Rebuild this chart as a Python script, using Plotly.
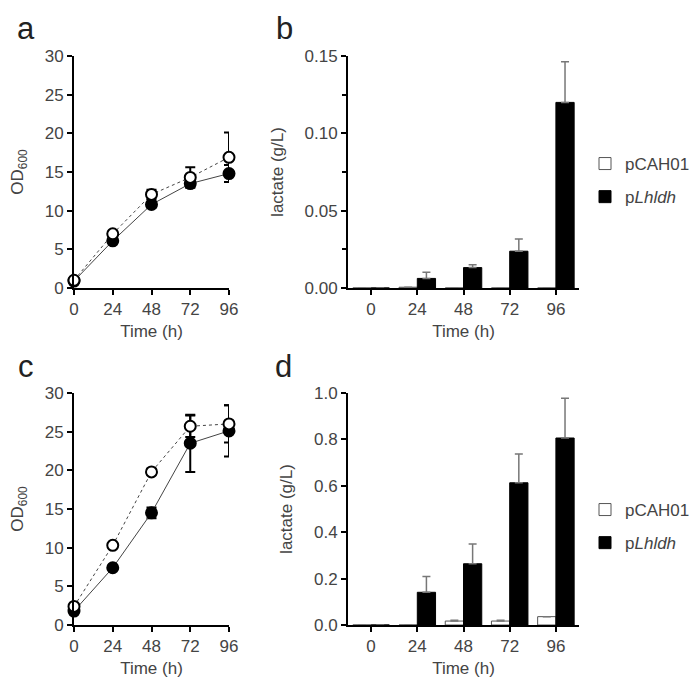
import plotly.graph_objects as go

# ---- data ----
time_h = [0, 24, 48, 72, 96]
time_labels = ["0", "24", "48", "72", "96"]

# panel a: OD600
a_open = [1.0, 7.0, 12.1, 14.3, 16.9]
a_open_err = [0.2, 0.3, 0.6, 1.3, 3.2]
a_filled = [0.9, 6.1, 10.8, 13.5, 14.8]
a_filled_err = [0.2, 0.3, 0.4, 0.5, 1.1]

# panel c: OD600
c_open = [2.4, 10.3, 19.8, 25.7, 26.0]
c_open_err = [0.2, 0.3, 0.4, 1.4, 2.4]
c_filled = [1.8, 7.4, 14.5, 23.5, 25.1]
c_filled_err = [0.2, 0.3, 0.7, 3.7, 3.3]

# panel b: lactate (g/L)
b_pcah = [0.0, 0.0005, 0.0, 0.0, 0.0]
b_pcah_err = [0.0, 0.0, 0.0, 0.0, 0.0]
b_plh = [0.0, 0.0062, 0.0132, 0.0238, 0.120]
b_plh_err = [0.0, 0.0040, 0.0018, 0.0079, 0.0263]

# panel d: lactate (g/L)
d_pcah = [0.0, 0.0, 0.017, 0.017, 0.036]
d_pcah_err = [0.0, 0.0, 0.004, 0.004, 0.0]
d_plh = [0.0, 0.141, 0.264, 0.613, 0.806]
d_plh_err = [0.0, 0.068, 0.085, 0.124, 0.171]

series_names = ["pCAH01", "p<i>Lhldh</i>"]

FONT = "Liberation Sans, Arial, sans-serif"
TXT = "#444444"

fig = go.Figure()


def add_growth(xa, ya, openv, openerr, filledv, fillederr):
    fig.add_trace(go.Scatter(
        x=time_h, y=filledv, mode="lines+markers", xaxis=xa, yaxis=ya,
        line=dict(color="#444444", width=1),
        marker=dict(symbol="circle", size=11, color="black", line=dict(color="black", width=2)),
        error_y=dict(type="data", array=fillederr, color="black", thickness=2, width=5),
        cliponaxis=False, showlegend=False))
    fig.add_trace(go.Scatter(
        x=time_h, y=openv, mode="lines+markers", xaxis=xa, yaxis=ya,
        line=dict(color="#444444", width=1, dash="3px,3px"),
        marker=dict(symbol="circle", size=11, color="white", line=dict(color="black", width=2)),
        error_y=dict(type="data", array=openerr, color="black", thickness=2, width=5),
        cliponaxis=False, showlegend=False))


def add_bars(xa, ya, pcah, pcah_err, plh, plh_err, legend, tag):
    fig.add_trace(go.Bar(
        x=time_labels, y=pcah, xaxis=xa, yaxis=ya, name=series_names[0],
        marker=dict(color="white", line=dict(color="#555555", width=1)),
        error_y=dict(type="data", array=pcah_err, symmetric=False, arrayminus=[0] * 5,
                     color="#777777", thickness=1.5, width=4),
        legend=legend, legendgroup=tag + "1", showlegend=True))
    fig.add_trace(go.Bar(
        x=time_labels, y=plh, xaxis=xa, yaxis=ya, name=series_names[1],
        marker=dict(color="black", line=dict(color="black", width=1)),
        error_y=dict(type="data", array=plh_err, symmetric=False, arrayminus=[0] * 5,
                     color="#777777", thickness=1.5, width=4),
        legend=legend, legendgroup=tag + "2", showlegend=True))


add_growth("x", "y", a_open, a_open_err, a_filled, a_filled_err)
add_bars("x2", "y2", b_pcah, b_pcah_err, b_plh, b_plh_err, "legend", "b")
add_growth("x3", "y3", c_open, c_open_err, c_filled, c_filled_err)
add_bars("x4", "y4", d_pcah, d_pcah_err, d_plh, d_plh_err, "legend2", "d")

W, H = 697, 679
xl = [66 / W, 221 / W]
xr = [340 / W, 571 / W]
yt = [1 - 280 / H, 1 - 48 / H]
yb = [1 - 617 / H, 1 - 385 / H]

axis_common = dict(showline=True, linecolor="black", linewidth=2, ticks="outside",
                   tickcolor="black", tickwidth=2, ticklen=5, showgrid=False, zeroline=False,
                   tickfont=dict(family=FONT, size=17, color=TXT), automargin=False,
                   title_font=dict(family=FONT, size=17, color=TXT))

od_title = dict(text="OD<sub>600</sub>", standoff=18)
lac_title = dict(text="lactate (g/L)", standoff=17)
time_title = dict(text="Time (h)", standoff=7)

legend_common = dict(xanchor="left", yanchor="top", font=dict(family=FONT, size=17, color=TXT),
                     bgcolor="rgba(0,0,0,0)", tracegroupgap=8, itemwidth=30, traceorder="grouped")

fig.update_layout(
    width=W, height=H, margin=dict(l=0, r=0, t=0, b=0),
    paper_bgcolor="white", plot_bgcolor="white",
    barmode="group", bargap=0.21, bargroupgap=0.0,
    font=dict(family=FONT, color=TXT),
    xaxis=dict(domain=xl, anchor="y", range=[0, 96], tickvals=time_h, title=time_title, **axis_common),
    yaxis=dict(domain=yt, anchor="x", range=[0, 30], dtick=5, title=od_title, **axis_common),
    xaxis2=dict(domain=xr, anchor="y2", type="category", range=[-0.5, 4.5], title=time_title, **axis_common),
    yaxis2=dict(domain=yt, anchor="x2", range=[0, 0.15], dtick=0.05, tickformat=".2f", title=lac_title,
                minor=dict(ticks="outside", ticklen=4, dtick=0.025, tickcolor="black", tickwidth=1.5),
                **axis_common),
    xaxis3=dict(domain=xl, anchor="y3", range=[0, 96], tickvals=time_h, title=time_title, **axis_common),
    yaxis3=dict(domain=yb, anchor="x3", range=[0, 30], dtick=5, title=od_title, **axis_common),
    xaxis4=dict(domain=xr, anchor="y4", type="category", range=[-0.5, 4.5], title=time_title, **axis_common),
    yaxis4=dict(domain=yb, anchor="x4", range=[0, 1.0], dtick=0.2, tickformat=".1f", title=lac_title,
                **axis_common),
    legend=dict(x=577 / W, y=1 - 138 / H, **legend_common),
    legend2=dict(x=577 / W, y=1 - 484 / H, **legend_common),
)

for txt, x, y in [("a", 18, 1), ("b", 276, 1), ("c", 18, 339), ("d", 275, 339)]:
    fig.add_annotation(text=txt, x=x / W, y=1 - y / H, xref="paper", yref="paper",
                       xanchor="center", yanchor="top", showarrow=False,
                       font=dict(family=FONT, size=31, color="#222222"))

fig.write_html("out.html")
